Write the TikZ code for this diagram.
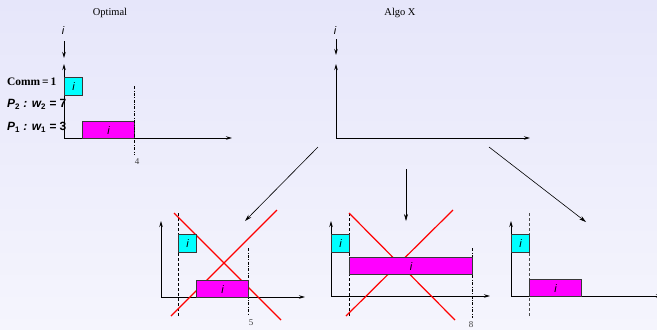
\documentclass[tikz,border=0pt]{standalone}
\usepackage{fontspec}
\setmainfont{Liberation Serif}
\newfontfamily\sansfont{Liberation Sans}
\usetikzlibrary{arrows.meta,positioning}
\definecolor{bgtop}{RGB}{230,230,250}
\definecolor{bgbot}{RGB}{245,245,253}
\definecolor{boxline}{RGB}{55,55,55}
\definecolor{commcol}{RGB}{0,255,255}
\definecolor{workcol}{RGB}{255,0,255}
\definecolor{crosscol}{RGB}{255,0,0}

\begin{document}
\begin{tikzpicture}[x=1bp,y=-1bp,
  axis/.style={-{Stealth[length=6bp,width=3.5bp]},line width=0.9bp},
  task/.style={draw=boxline,line width=1.1bp,inner sep=0pt,anchor=north west,font=\sansfont\itshape\fontsize{11}{13}\selectfont},
  comm/.style={task,fill=commcol,minimum width=18bp,minimum height=18bp},
  work/.style={task,fill=workcol,minimum height=17bp},
  bound/.style={dash pattern=on 3bp off 2bp,line width=0.7bp},
  finish/.style={dash pattern=on 3bp off 1.5bp on 0.8bp off 1.5bp,line width=0.7bp},
  cross/.style={crosscol,line width=1.2bp},
  flow/.style={-{Stealth[length=7bp,width=4bp]},line width=0.6bp},
  title/.style={font=\fontsize{10.5}{12}\selectfont},
  tick/.style={font=\fontsize{9}{10}\selectfont,text=black!75,anchor=north},
  proc/.style={font=\sansfont\bfseries\itshape\fontsize{12}{14}\selectfont,anchor=west,inner sep=0pt}]
  \shade[top color=bgtop,bottom color=bgbot] (0,0) rectangle (657,329);
  \useasboundingbox (0,0) rectangle (657,329);
  % Optimal (top left)
  \node[title] (topt) at (110,13) {Optimal};
  \node[font=\sansfont\itshape\fontsize{11}{13}\selectfont] (iopt) at (63,31) {i};
  \coordinate (oopt) at (64,138);
  \coordinate (yopt) at (64,64);
  \coordinate (xopt) at (232,138);
  \draw[axis] (64,41) coordinate (arr1) -- (64,58) coordinate (arr1e);
  \draw[axis] (oopt) -- (yopt);
  \draw[axis] (oopt) -- (xopt);
  \node[proc,font=\bfseries\fontsize{11.5}{13}\selectfont] (lcomm) at (7,82) {Comm\,=\,1};
  \node[proc] (lp2) at (7,104) {P\textsubscript{\upshape 2} : w\textsubscript{\upshape 2} = \upshape 7};
  \node[proc] (lp1) at (7,127) {P\textsubscript{\upshape 1} : w\textsubscript{\upshape 1} = \upshape 3};
  \node[comm] (copt) at (64,77) {i};
  \node[work,minimum width=52bp] (wopt) at (82,121) {i};
  \coordinate (dopt) at (134,86);
  \node[tick] (topt4) at (137,155) {4};
  \draw[finish] (dopt) -- (topt4.north -| dopt);
  % Algo X (top right)
  \node[title] (talg) at (400,13) {Algo X};
  \node[font=\sansfont\itshape\fontsize{11}{13}\selectfont] (ialg) at (335,31) {i};
  \coordinate (oalg) at (336,138);
  \coordinate (yalg) at (336,64);
  \coordinate (xalg) at (530,138);
  \draw[axis] (336,39) coordinate (arr2) -- (336,55) coordinate (arr2e);
  \draw[axis] (oalg) -- (yalg);
  \draw[axis] (oalg) -- (xalg);
  % Branches
  \coordinate (fromA) at (318,147);
  \coordinate (toA) at (245,221);
  \coordinate (fromB) at (406,169);
  \coordinate (toB) at (406,221);
  \coordinate (fromC) at (489,147);
  \coordinate (toC) at (586,222);
  \draw[flow] (fromA) -- (toA);
  \draw[flow] (fromB) -- (toB);
  \draw[flow] (fromC) -- (toC);
  % Case A (bottom left)
  \coordinate (oa) at (161,297);
  \coordinate (ya) at (161,221);
  \coordinate (xa) at (305,297);
  \draw[axis] (oa) -- (ya);
  \draw[axis] (oa) -- (xa);
  \coordinate (da1) at (178,213);
  \coordinate (da2) at (178,316);
  \draw[bound] (da1) -- (da2);
  \node[tick] (ta5) at (251,316) {5};
  \draw[finish] (248,248) coordinate (fa1) -- (ta5.north -| fa1);
  \coordinate (ra1) at (174,213);
  \coordinate (ra2) at (281,320);
  \coordinate (ra3) at (171,316);
  \coordinate (ra4) at (277,210);
  \draw[cross] (ra1) -- (ra2);
  \draw[cross] (ra3) -- (ra4);
  \node[comm] (ca) at (178,234) {i};
  \node[work,minimum width=52bp] (wa) at (196,280) {i};
  % Case B (bottom middle)
  \coordinate (ob) at (331,296);
  \coordinate (yb) at (331,221);
  \coordinate (xb) at (490,296);
  \draw[axis] (ob) -- (yb);
  \draw[axis] (ob) -- (xb);
  \coordinate (db1) at (349,213);
  \coordinate (db2) at (349,316);
  \draw[bound] (db1) -- (db2);
  \node[tick] (tb8) at (471,318) {8};
  \draw[finish] (472,248) coordinate (fb1) -- (472,318) coordinate (fb2);
  \coordinate (rb1) at (349,213);
  \coordinate (rb2) at (455,320);
  \coordinate (rb3) at (346,316);
  \coordinate (rb4) at (453,210);
  \draw[cross] (rb1) -- (rb2);
  \draw[cross] (rb3) -- (rb4);
  \node[comm] (cb) at (331,234) {i};
  \node[work,minimum width=123bp] (wb) at (349,257) {i};
  % Case C (bottom right)
  \coordinate (oc) at (511,296);
  \coordinate (yc) at (511,221);
  \coordinate (xc) at (662,296);
  \draw[axis] (oc) -- (yc);
  \draw[axis] (oc) -- (xc);
  \coordinate (dc1) at (529,213);
  \coordinate (dc2) at (529,318);
  \draw[bound,black!70] (dc1) -- (dc2);
  \node[comm] (cc) at (511,234) {i};
  \node[work,minimum width=52bp] (wc) at (529,279) {i};
\end{tikzpicture}
\end{document}
